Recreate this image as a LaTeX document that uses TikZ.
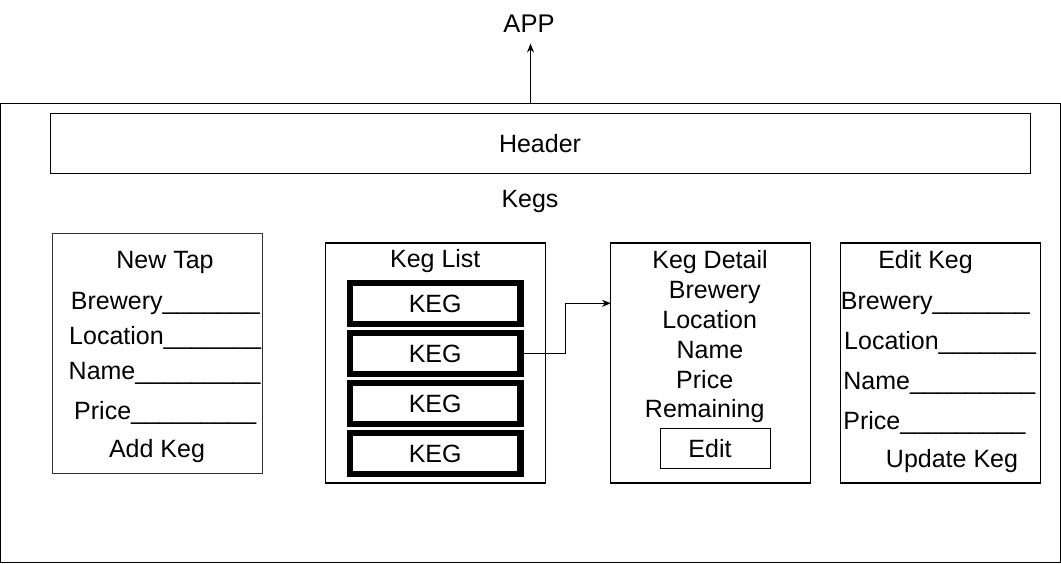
\documentclass[tikz,border=0pt]{standalone}
\usepackage{fontspec}
\setmainfont{Liberation Sans}
\usetikzlibrary{arrows.meta}
\begin{document}
\begin{tikzpicture}[x=1pt,y=-1pt,
  every node/.style={font=\fontsize{25}{29}\selectfont},
  box/.style={draw, rectangle, line width=1.3pt, inner sep=0pt},
  kegbox/.style={draw, rectangle, line width=6.3pt, inner sep=0pt, minimum width=170.7pt, minimum height=40.5pt},
  txt/.style={anchor=base, inner sep=0pt},
  ltxt/.style={anchor=base west, inner sep=0pt},
  arr/.style={line width=1.3pt, -{Stealth[length=9pt,width=7pt]}}]
\useasboundingbox (0,0) rectangle (1061,564);
\fill[white] (0,0) rectangle (1061,564);
% outer app box
\node[box, minimum width=1059.8pt, minimum height=459.2pt] (outer) at (530.4,333.1) {};
\node[txt, font=\fontsize{25.5}{30}\selectfont] (app) at (529,32.8) {APP};
\coordinate (apptip) at (530.5,43.5);
\draw[arr] (outer.north -| apptip) -- (apptip);
% header
\node[box, minimum width=979.8pt, minimum height=59.8pt] (header) at (540.4,143.4) {};
\node[txt] (headert) at (540,153) {Header};
\node[txt] (kegs) at (530,207.5) {Kegs};
% New Tap
\node[box, draw=black!80, minimum width=210pt, minimum height=240pt] (newtap) at (157.7,353.3) {};
\node[txt] (nt1) at (165,269) {New Tap};
\node[ltxt] (nt2) at (70.7,309) {Brewery\_\_\_\_\_\_\_};
\node[ltxt] (nt3) at (69,344.7) {Location\_\_\_\_\_\_\_};
\node[ltxt] (nt4) at (68.5,379) {Name\_\_\_\_\_\_\_\_\_};
\node[ltxt] (nt5) at (74,419) {Price\_\_\_\_\_\_\_\_\_};
\node[txt] (nt6) at (157,457.5) {Add Keg};
% Keg List
\node[box, minimum width=220pt, minimum height=240pt] (keglist) at (435.8,363) {};
\node[txt] (klt) at (435.3,268) {Keg List};
\node[kegbox] (kegA) at (435.2,303.5) {};
\node[kegbox] (kegB) at (435.2,353.5) {};
\node[kegbox] (kegC) at (435.2,403.5) {};
\node[kegbox] (kegD) at (435.2,453.5) {};
\node[txt] (kegAt) at (435.2,312.5) {KEG};
\node[txt] (kegBt) at (435.2,362.5) {KEG};
\node[txt] (kegCt) at (435.2,412.5) {KEG};
\node[txt] (kegDt) at (435.2,462.5) {KEG};
% Keg Detail
\node[box, minimum width=200pt, minimum height=240pt] (detail) at (710.8,363) {};
\node[txt] (kd1) at (710,268.5) {Keg Detail};
\node[txt] (kd2) at (714.7,298.5) {Brewery};
\node[txt] (kd3) at (709.7,328.5) {Location};
\node[txt] (kd4) at (710,358) {Name};
\node[txt] (kd5) at (704.7,388) {Price};
\node[txt] (kd6) at (704.7,417.5) {Remaining};
\node[box, line width=1pt, minimum width=110.5pt, minimum height=40pt] (editbtn) at (715.3,448.3) {};
\node[txt] (editt) at (710,457.5) {Edit};
% Edit Keg
\node[box, minimum width=200pt, minimum height=240pt] (editkeg) at (940.8,363) {};
\node[txt] (ek1) at (925.5,269) {Edit Keg};
\node[ltxt] (ek2) at (840.7,309.7) {Brewery\_\_\_\_\_\_\_};
\node[ltxt] (ek3) at (844,349) {Location\_\_\_\_\_\_\_};
\node[ltxt] (ek4) at (843.2,389) {Name\_\_\_\_\_\_\_\_\_};
\node[ltxt] (ek5) at (843.2,429) {Price\_\_\_\_\_\_\_\_\_};
\node[txt] (ek6) at (952,467.5) {Update Keg};
% connector
\coordinate (kdin) at (611,303.3);
\draw[arr] (kegB.east) -- ++(42,0) |- (kdin);
\end{tikzpicture}
\end{document}
